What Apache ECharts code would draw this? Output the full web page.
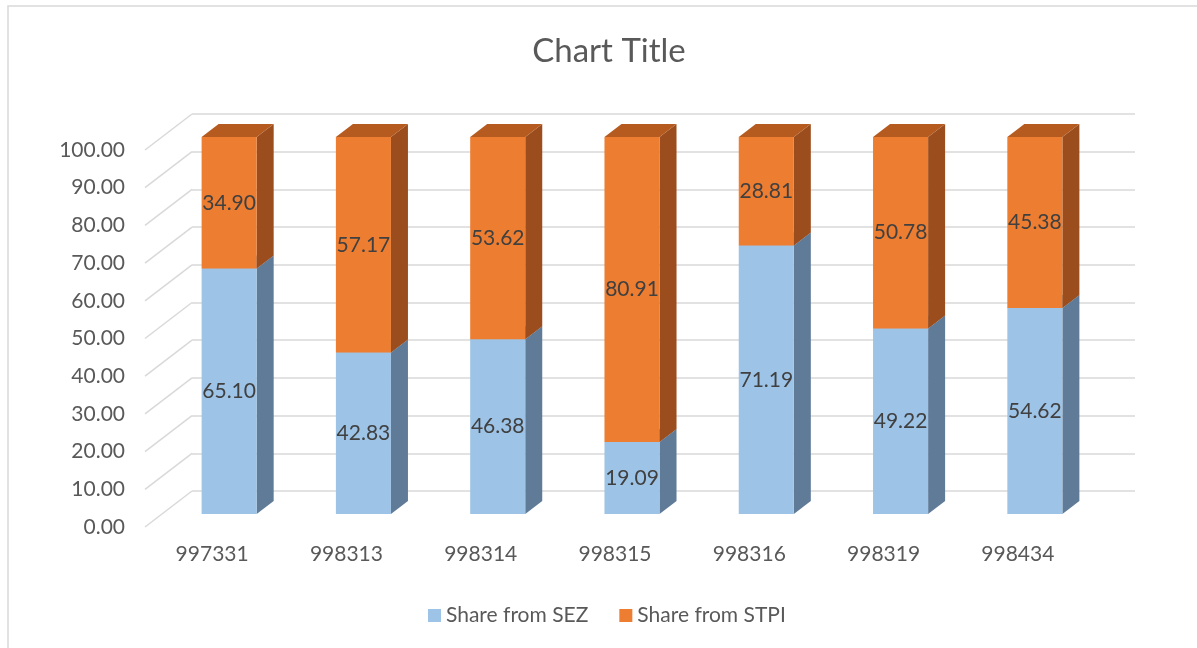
<!DOCTYPE html>
<html>
<head>
<meta charset="utf-8">
<title>Chart Title</title>
<script src="https://cdn.jsdelivr.net/npm/echarts@6/dist/echarts.min.js"></script>
<style>
  html, body { margin: 0; padding: 0; background: #fff; }
  #chart { width: 1197px; height: 648px; }
</style>
</head>
<body>
<div id="chart"></div>
<script>
// data
const categories = ['997331', '998313', '998314', '998315', '998316', '998319', '998434']
const shareSEZ = [65.10, 42.83, 46.38, 19.09, 71.19, 49.22, 54.62]
const shareSTPI = [34.90, 57.17, 53.62, 80.91, 28.81, 50.78, 45.38]
const yTicks = [0, 10, 20, 30, 40, 50, 60, 70, 80, 90, 100]

const FONT = 'Lato, "Open Sans", sans-serif'
const TEXT = '#595959'

// the bar front plane, and the depth of the fake 3d box
const plane = { left: 162, top: 137, width: 940, height: 377 }
const front = { dx: -17, dy: 13 } // floor front edge vs. bar plane
const back = { dx: 30, dy: -23 } // back wall vs. bar plane
const depth = { dx: 17, dy: -13 } // bar thickness

const colors = {
  sez: { front: '#9dc3e6', side: '#5f7b98', top: '#7d9fbf' },
  stpi: { front: '#ed7d31', side: '#9b4d1d', top: '#b65b20' }
}

function makeBarItem(c, withTop) {
  return function(params, api) {
    const cat = api.value(0)
    const lo = api.value(1)
    const hi = api.value(2)
    const w = api.size([1, 0])[0] * 0.41
    const pLo = api.coord([cat, lo])
    const pHi = api.coord([cat, hi])
    const x0 = pLo[0] - w / 2
    const x1 = pLo[0] + w / 2
    const children = [{
      type: 'polygon',
      shape: { points: [[x1, pLo[1]], [x1, pHi[1]], [x1 + depth.dx, pHi[1] + depth.dy], [x1 + depth.dx, pLo[1] + depth.dy]] },
      style: { fill: c.side }
    }, {
      type: 'rect',
      shape: { x: x0, y: pHi[1], width: w, height: pLo[1] - pHi[1] },
      style: { fill: c.front }
    }]
    if (withTop) {
      children.push({
        type: 'polygon',
        shape: { points: [[x0, pHi[1]], [x0 + depth.dx, pHi[1] + depth.dy], [x1 + depth.dx, pHi[1] + depth.dy], [x1, pHi[1]]] },
        style: { fill: c.top }
      })
    }
    children.push({
      type: 'text',
      x: pLo[0],
      y: (pLo[1] + pHi[1]) / 2,
      style: {
        text: (hi - lo).toFixed(2),
        fill: '#404040',
        font: '21px ' + FONT,
        align: 'center',
        verticalAlign: 'middle'
      }
    })
    return { type: 'group', children: children }
  }
}

function slantItem(params, api) {
  const cs = params.coordSys
  const p = api.coord([0, api.value(1)])
  return {
    type: 'line',
    shape: { x1: cs.x, y1: p[1], x2: cs.x + back.dx - front.dx, y2: p[1] + back.dy - front.dy },
    style: { stroke: '#d9d9d9', lineWidth: 1.5 },
    silent: true
  }
}

const chart = echarts.init(document.getElementById('chart'))

chart.setOption({
  backgroundColor: '#fff',
  animation: false,
  textStyle: { fontFamily: FONT },
  title: {
    text: 'Chart Title',
    left: 604,
    textAlign: 'center',
    top: 30,
    textStyle: { fontFamily: FONT, fontSize: 33, fontWeight: 'normal', color: TEXT }
  },
  legend: {
    data: ['Share from SEZ', 'Share from STPI'],
    left: 423,
    top: 600,
    icon: 'rect',
    itemWidth: 13,
    itemHeight: 13,
    itemGap: 31,
    textStyle: { fontFamily: FONT, fontSize: 21, color: TEXT }
  },
  graphic: [{
    type: 'rect',
    shape: { x: 8, y: 6, width: 1400, height: 900 },
    style: { fill: null, stroke: '#d9d9d9', lineWidth: 1.5 },
    silent: true,
    z: -10
  }],
  grid: [
    { left: plane.left, top: plane.top, width: plane.width, height: plane.height },
    { left: plane.left + front.dx, top: plane.top + front.dy, width: plane.width, height: plane.height },
    { left: plane.left + back.dx, top: plane.top + back.dy, width: plane.width + 3, height: plane.height }
  ],
  xAxis: [
    { gridIndex: 0, type: 'category', data: categories, show: false },
    {
      gridIndex: 1, type: 'category', data: categories,
      axisLine: { show: false }, axisTick: { show: false },
      axisLabel: { margin: 17, fontFamily: FONT, fontSize: 21, color: TEXT }
    },
    { gridIndex: 2, type: 'category', data: categories, show: false }
  ],
  yAxis: [
    { gridIndex: 0, type: 'value', min: 0, max: 100, interval: 10, show: false },
    {
      gridIndex: 1, type: 'value', min: 0, max: 100, interval: 10,
      axisLine: { show: false }, axisTick: { show: false }, splitLine: { show: false },
      axisLabel: { margin: 20, fontFamily: FONT, fontSize: 21, color: TEXT, formatter: v => v.toFixed(2) }
    },
    {
      gridIndex: 2, type: 'value', min: 0, max: 100, interval: 10,
      axisLine: { show: false }, axisTick: { show: false }, axisLabel: { show: false },
      splitLine: { show: true, lineStyle: { color: '#d9d9d9', width: 1.5 } }
    }
  ],
  series: [
    {
      type: 'custom',
      name: 'floor',
      xAxisIndex: 1,
      yAxisIndex: 1,
      silent: true,
      z: 1,
      renderItem: slantItem,
      data: yTicks.map(v => [0, v])
    },
    {
      type: 'custom',
      name: 'Share from SEZ',
      xAxisIndex: 0,
      yAxisIndex: 0,
      z: 3,
      itemStyle: { color: colors.sez.front },
      renderItem: makeBarItem(colors.sez, true),
      data: shareSEZ.map((v, i) => [i, 0, v])
    },
    {
      type: 'custom',
      name: 'Share from STPI',
      xAxisIndex: 0,
      yAxisIndex: 0,
      z: 4,
      itemStyle: { color: colors.stpi.front },
      renderItem: makeBarItem(colors.stpi, true),
      data: shareSTPI.map((v, i) => [i, shareSEZ[i], shareSEZ[i] + v])
    }
  ]
})
</script>
</body>
</html>
